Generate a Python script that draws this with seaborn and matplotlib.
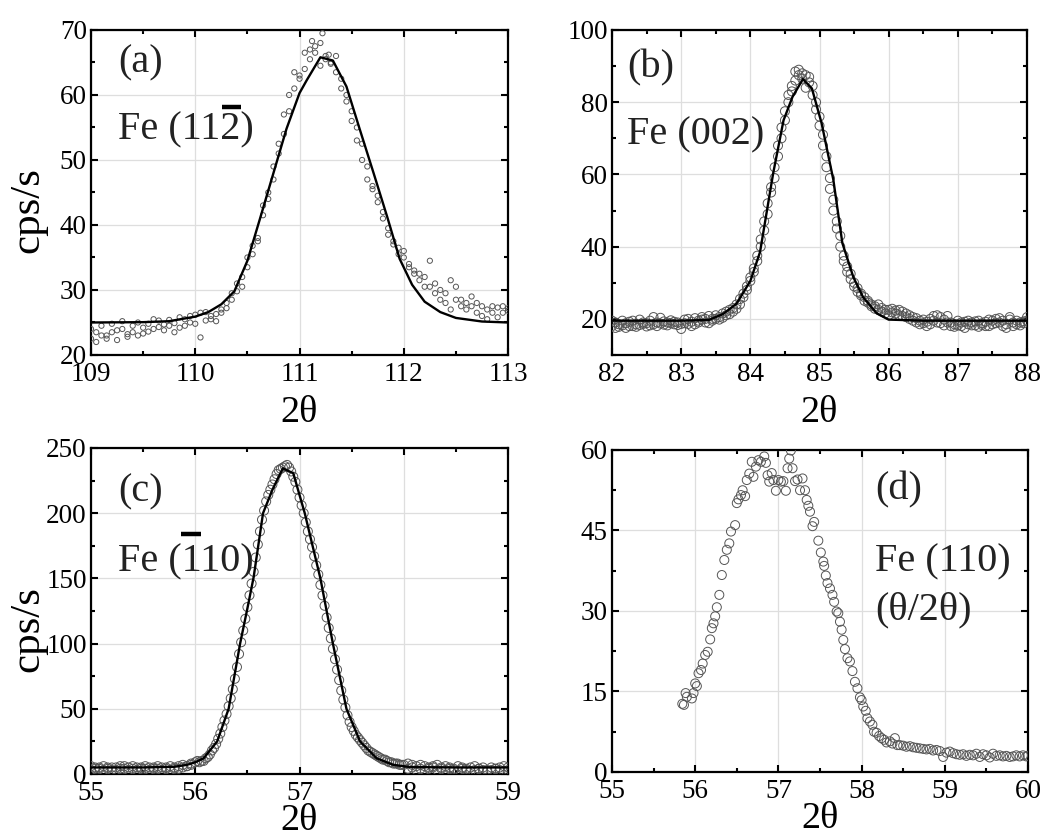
import numpy as np
import pandas as pd
import matplotlib
matplotlib.use("Agg")
import matplotlib.pyplot as plt
import seaborn as sns
from matplotlib.ticker import MultipleLocator

# ---------------- data: panel (a) Fe (11-2) ----------------
a_x = [109.00, 109.05, 109.10, 109.15, 109.20, 109.25, 109.30, 109.35, 109.40, 109.45,
       109.50, 109.55, 109.60, 109.65, 109.70, 109.75, 109.80, 109.85, 109.90, 109.95,
       110.00, 110.05, 110.10, 110.15, 110.20, 110.25, 110.30, 110.35, 110.40, 110.45,
       110.50, 110.55, 110.60, 110.65, 110.70, 110.75, 110.80, 110.85, 110.90, 110.95,
       111.00, 111.05, 111.10, 111.15, 111.20, 111.25, 111.30, 111.35, 111.40, 111.45,
       111.50, 111.55, 111.60, 111.65, 111.70, 111.75, 111.80, 111.85, 111.90, 111.95,
       112.00, 112.05, 112.10, 112.15, 112.20, 112.25, 112.30, 112.35, 112.40, 112.45,
       112.50, 112.55, 112.60, 112.65, 112.70, 112.75, 112.80, 112.85, 112.90, 112.95,
       113.00]
a_y1 = [22.5, 23.5, 24.5, 23.0, 23.5, 22.3, 24.0, 23.2, 24.5, 23.0,
        24.2, 24.8, 25.5, 24.3, 23.8, 24.5, 23.5, 25.8, 24.5, 25.0,
        26.2, 22.7, 25.3, 25.5, 26.3, 27.0, 28.0, 28.5, 29.8, 32.0,
        33.5, 35.5, 38.0, 41.5, 44.0, 47.0, 51.0, 54.0, 57.5, 61.0,
        63.0, 64.0, 67.0, 66.5, 68.0, 66.0, 65.0, 66.0, 62.5, 60.0,
        57.5, 55.0, 52.5, 49.0, 46.0, 44.5, 42.0, 39.5, 37.5, 36.5,
        35.0, 34.0, 33.0, 32.5, 32.0, 34.5, 31.0, 30.0, 29.5, 31.5,
        30.5, 28.5, 28.0, 27.5, 28.0, 27.5, 27.0, 27.5, 27.3, 26.5,
        26.8]
a_y2 = [24.0, 22.0, 23.0, 22.5, 24.8, 23.8, 25.2, 22.8, 23.5, 25.0,
        23.3, 23.6, 24.0, 25.3, 24.7, 25.4, 24.9, 24.2, 25.5, 26.0,
        24.8, 26.5, 26.6, 26.0, 25.2, 26.5, 27.2, 29.5, 31.0, 30.5,
        35.0, 36.8, 37.5, 43.0, 45.0, 49.0, 52.5, 57.0, 60.0, 63.5,
        62.5, 66.5, 65.5, 67.5, 64.5, 65.5, 64.8, 63.5, 61.0, 59.0,
        56.0, 53.0, 50.0, 47.0, 45.5, 43.5, 41.0, 38.5, 37.0, 35.5,
        36.0, 33.5, 32.5, 31.5, 30.5, 30.5, 29.5, 28.5, 28.0, 27.0,
        28.5, 27.5, 27.0, 29.0, 26.5, 26.0, 25.5, 26.5, 25.8, 27.5,
        27.2]
a_extra_x = [111.22, 111.12, 111.28]
a_extra_y = [69.5, 68.3, 66.2]
a_fit_x = [109.0, 109.5, 109.75, 110.0, 110.125, 110.25, 110.375, 110.5, 110.625,
           110.75, 110.875, 111.0, 111.07, 111.2, 111.32, 111.45, 111.58, 111.71,
           111.84, 111.96, 112.08, 112.2, 112.35, 112.5, 112.75, 113.0]
a_fit_y = [25.0, 25.05, 25.2, 25.9, 26.6, 27.8, 29.8, 34.5, 41.2,
           48.0, 54.8, 60.3, 62.3, 65.8, 65.3, 61.3, 54.6, 48.0,
           41.3, 34.8, 30.8, 28.2, 26.6, 25.7, 25.15, 25.0]

# ---------------- data: panel (b) Fe (002) ----------------
b_x = [82.00, 82.05, 82.10, 82.15, 82.20, 82.25, 82.30, 82.35, 82.40, 82.45,
       82.50, 82.55, 82.60, 82.65, 82.70, 82.75, 82.80, 82.85, 82.90, 82.95,
       83.00, 83.05, 83.10, 83.15, 83.20, 83.25, 83.30, 83.35, 83.40, 83.45,
       83.50, 83.55, 83.60, 83.65, 83.70, 83.75, 83.80, 83.85, 83.90, 83.95,
       84.00, 84.05, 84.10, 84.15, 84.20, 84.25, 84.30, 84.35, 84.40, 84.45,
       84.50, 84.55, 84.60, 84.65, 84.70, 84.75, 84.80, 84.85, 84.90, 84.95,
       85.00, 85.05, 85.10, 85.15, 85.20, 85.25, 85.30, 85.35, 85.40, 85.45,
       85.50, 85.55, 85.60, 85.65, 85.70, 85.75, 85.80, 85.85, 85.90, 85.95,
       86.00, 86.05, 86.10, 86.15, 86.20, 86.25, 86.30, 86.35, 86.40, 86.45,
       86.50, 86.55, 86.60, 86.65, 86.70, 86.75, 86.80, 86.85, 86.90, 86.95,
       87.00, 87.05, 87.10, 87.15, 87.20, 87.25, 87.30, 87.35, 87.40, 87.45,
       87.50, 87.55, 87.60, 87.65, 87.70, 87.75, 87.80, 87.85, 87.90, 87.95,
       88.00]
b_y1 = [18.0, 17.5, 18.5, 19.5, 18.8, 19.2, 18.0, 18.5, 19.8, 18.6,
        17.9, 19.5, 20.5, 19.0, 20.3, 18.4, 19.0, 18.8, 18.5, 19.0,
        18.6, 19.8, 20.0, 19.2, 20.2, 19.5, 20.5, 20.0, 20.8, 20.0,
        21.0, 20.5, 21.5, 21.0, 22.5, 23.0, 22.8, 24.0, 26.0, 28.0,
        30.5, 33.0, 36.0, 40.0, 44.5, 49.0, 55.0, 59.0, 65.0, 70.0,
        75.0, 80.0, 83.0, 86.0, 87.5, 88.0, 84.0, 87.0, 84.5, 80.0,
        76.0, 71.0, 65.0, 59.0, 53.0, 47.0, 43.0, 37.5, 34.5, 32.5,
        30.0, 28.5, 27.0, 26.0, 25.0, 24.0, 23.5, 24.0, 23.0, 22.5,
        22.5, 21.8, 22.3, 21.0, 22.0, 21.5, 21.0, 20.5, 20.2, 19.5,
        19.8, 19.2, 20.0, 19.5, 21.0, 20.5, 19.8, 20.8, 19.0, 18.5,
        19.5, 18.0, 19.2, 18.5, 19.0, 18.2, 19.5, 18.8, 19.2, 18.0,
        19.5, 18.8, 20.2, 19.5, 18.5, 19.8, 18.0, 18.5, 19.0, 18.8,
        20.5]
b_y2 = [19.5, 19.0, 17.8, 18.2, 17.5, 18.0, 19.5, 17.8, 18.3, 19.0,
        18.8, 18.2, 18.5, 18.0, 18.7, 19.3, 18.2, 19.6, 19.2, 18.3,
        17.2, 18.8, 18.6, 18.0, 18.5, 19.0, 19.8, 19.0, 18.8, 19.5,
        20.0, 19.8, 20.3, 22.0, 21.3, 22.0, 24.0, 25.5, 27.0, 29.0,
        31.5, 34.0, 37.5, 42.0, 47.0, 52.0, 56.5, 62.0, 68.0, 73.0,
        77.5, 82.0, 84.5, 88.5, 89.0, 86.5, 87.5, 85.5, 82.0, 78.0,
        73.5, 68.0, 62.0, 56.0, 50.0, 45.0, 40.0, 36.0, 33.0, 31.0,
        29.0, 27.5, 26.5, 25.0, 24.5, 23.5, 22.8, 22.5, 22.0, 21.5,
        21.0, 22.8, 21.5, 22.5, 20.8, 20.5, 20.0, 19.5, 19.0, 18.5,
        18.8, 18.0, 18.5, 20.8, 19.0, 18.8, 18.2, 19.0, 18.0, 17.8,
        18.2, 19.0, 17.5, 19.5, 18.2, 19.3, 17.8, 18.3, 18.0, 19.8,
        18.5, 20.0, 19.0, 18.0, 17.5, 20.5, 19.0, 19.5, 18.2, 19.3,
        19.5]
b_fit_x = [82.0, 83.0, 83.4, 83.6, 83.8, 84.0, 84.14, 84.33, 84.48, 84.61, 84.76,
           84.89, 85.03, 85.2, 85.33, 85.49, 85.63, 85.83, 86.0, 86.5, 88.0]
b_fit_y = [19.5, 19.5, 19.7, 21.3, 24.2, 30.5, 38.5, 60.3, 75.0, 81.5, 86.4,
           83.8, 74.2, 58.5, 41.0, 31.5, 26.0, 21.5, 19.8, 19.5, 19.5]

# ---------------- data: panel (c) Fe (-110) ----------------
c_base_left_x = [55.00, 55.04, 55.08, 55.12, 55.16, 55.20, 55.24, 55.28, 55.32, 55.36,
                 55.40, 55.44, 55.48, 55.52, 55.56, 55.60, 55.64, 55.68, 55.72, 55.76,
                 55.80, 55.84, 55.88, 55.92, 55.96]
c_base_left_y1 = [6, 5, 4, 6, 5, 3, 5, 6, 4, 5, 6, 5, 4, 6, 5, 4, 6, 5, 5, 6, 4, 6, 7, 6, 8]
c_base_left_y2 = [3, 4, 5, 3, 4, 5, 3, 4, 6, 3, 4, 3, 5, 4, 3, 5, 4, 3, 4, 3, 5, 4, 5, 6, 7]
c_peak_x = [56.00, 56.02, 56.04, 56.06, 56.08, 56.10, 56.12, 56.14, 56.16, 56.18,
            56.20, 56.22, 56.24, 56.26, 56.28, 56.30, 56.32, 56.34, 56.36, 56.38,
            56.40, 56.42, 56.44, 56.46, 56.48, 56.50, 56.52, 56.54, 56.56, 56.58,
            56.60, 56.62, 56.64, 56.66, 56.68, 56.70, 56.72, 56.74, 56.76, 56.78,
            56.80, 56.82, 56.84, 56.86, 56.88, 56.90, 56.92, 56.94, 56.96, 56.98,
            57.00, 57.02, 57.04, 57.06, 57.08, 57.10, 57.12, 57.14, 57.16, 57.18,
            57.20, 57.22, 57.24, 57.26, 57.28, 57.30, 57.32, 57.34, 57.36, 57.38,
            57.40, 57.42, 57.44, 57.46, 57.48, 57.50, 57.52, 57.54, 57.56, 57.58,
            57.60, 57.62, 57.64, 57.66, 57.68, 57.70, 57.72, 57.74, 57.76, 57.78,
            57.80, 57.82, 57.84, 57.86, 57.88, 57.90, 57.92, 57.94, 57.96, 57.98,
            58.00]
c_peak_y = [9, 10, 9, 10, 10, 12, 13, 15, 18, 20,
            23, 27, 31, 36, 41, 46, 52, 58, 65, 73,
            82, 92, 101, 110, 119, 128, 137, 146, 155, 166,
            176, 186, 195, 202, 209, 214, 218, 222, 226, 230,
            233, 234, 235, 236, 237, 235, 232, 228, 224, 218,
            212, 206, 200, 193, 186, 180, 174, 167, 160, 153,
            145, 137, 129, 120, 112, 104, 96, 88, 80, 72,
            64, 57, 51, 45, 40, 36, 33, 30, 28, 26,
            24, 22, 20, 18, 17, 16, 15, 14, 13, 12,
            11, 11, 10, 9, 9, 8, 8, 8, 7, 7,
            7]
c_base_right_x = [58.04, 58.08, 58.12, 58.16, 58.20, 58.24, 58.28, 58.32, 58.36, 58.40,
                  58.44, 58.48, 58.52, 58.56, 58.60, 58.64, 58.68, 58.72, 58.76, 58.80,
                  58.84, 58.88, 58.92, 58.96, 59.00]
c_base_right_y1 = [8, 7, 6, 7, 6, 5, 6, 7, 5, 6, 5, 4, 6, 5, 4, 5, 6, 4, 5, 3, 5, 4, 5, 6, 5]
c_base_right_y2 = [4, 5, 3, 4, 3, 4, 5, 3, 4, 3, 4, 3, 2, 4, 3, 2, 3, 4, 3, 2, 3, 4, 3, 2, 3]
c_fit_x = [55.0, 55.5, 55.8, 55.92, 56.0, 56.08, 56.21, 56.32, 56.43, 56.5, 56.56,
           56.65, 56.74, 56.84, 56.94, 57.05, 57.2, 57.32, 57.45, 57.58, 57.74,
           57.9, 58.06, 58.5, 59.0]
c_fit_y = [5.0, 5.0, 5.5, 7.0, 9.0, 12.0, 25.0, 50.0, 100.0, 127.0, 151.0,
           200.0, 218.0, 234.4, 230.6, 200.0, 150.0, 100.0, 50.0, 25.0, 12.0,
           7.0, 5.3, 5.0, 5.0]

# ---------------- data: panel (d) Fe (110) theta/2theta ----------------
d_x = [55.845, 55.865, 55.885, 55.90, 55.96, 55.98, 56.00, 56.02, 56.04, 56.07,
       56.09, 56.12, 56.15, 56.18, 56.20, 56.22, 56.24, 56.26, 56.29, 56.32,
       56.35, 56.38, 56.41, 56.43, 56.48, 56.50, 56.52, 56.55, 56.57, 56.60,
       56.62, 56.65, 56.68, 56.70, 56.73, 56.76, 56.79, 56.83, 56.85, 56.87,
       56.89, 56.92, 56.94, 56.97, 57.00, 57.03, 57.06, 57.09, 57.11, 57.13,
       57.15, 57.17, 57.20, 57.23, 57.26, 57.29, 57.32, 57.34, 57.36, 57.38,
       57.41, 57.43, 57.48, 57.51, 57.54, 57.55, 57.57, 57.59, 57.62, 57.65,
       57.67, 57.70, 57.72, 57.74, 57.76, 57.78, 57.80, 57.83, 57.86, 57.89,
       57.92, 57.95, 57.98, 58.00, 58.02, 58.05, 58.07, 58.10, 58.13, 58.15,
       58.18, 58.21, 58.24, 58.27, 58.30, 58.34, 58.37, 58.40, 58.43, 58.46,
       58.50, 58.54, 58.58, 58.62, 58.66, 58.70, 58.74, 58.78, 58.82, 58.86,
       58.90, 58.94, 58.98, 59.02, 59.06, 59.10, 59.14, 59.18, 59.22, 59.26,
       59.30, 59.34, 59.38, 59.42, 59.46, 59.50, 59.54, 59.58, 59.62, 59.66,
       59.70, 59.74, 59.78, 59.82, 59.86, 59.90, 59.94, 59.98, 60.00]
d_y = [12.7, 12.5, 14.7, 14.0, 13.7, 14.7, 16.5, 16.0, 18.4, 19.0,
       20.2, 21.8, 22.4, 24.7, 26.8, 27.7, 29.0, 30.7, 33.0, 36.7,
       39.5, 41.4, 42.6, 44.8, 46.0, 50.1, 50.8, 51.6, 52.5, 51.4,
       54.4, 55.6, 57.8, 55.0, 56.9, 58.1, 57.8, 58.8, 57.6, 55.3,
       54.1, 55.7, 54.4, 52.4, 54.4, 54.1, 54.2, 52.4, 56.6, 58.4,
       59.9, 56.6, 54.2, 54.5, 52.5, 54.7, 52.5, 50.7, 49.6, 48.5,
       45.8, 46.6, 43.1, 40.9, 39.2, 38.4, 36.6, 35.2, 34.2, 33.0,
       31.7, 29.9, 29.6, 28.0, 26.5, 24.6, 22.9, 21.2, 20.6, 18.8,
       16.8, 15.6, 13.9, 13.4, 12.2, 11.4, 10.0, 9.4, 8.8, 7.5,
       7.3, 6.7, 6.3, 6.0, 5.5, 5.7, 5.3, 6.3, 5.0, 5.0,
       4.9, 4.7, 4.8, 4.6, 4.5, 4.4, 4.3, 4.2, 4.3, 4.0,
       4.1, 3.9, 2.8, 3.6, 3.8, 3.5, 3.3, 3.2, 3.3, 3.0,
       3.2, 3.1, 3.4, 2.8, 3.3, 3.1, 2.7, 3.4, 3.0, 3.1,
       2.9, 3.0, 2.8, 2.9, 3.1, 2.9, 3.1, 2.9, 3.0]

# ---------------- labels ----------------
panel_labels = ["(a)", "(b)", "(c)", "(d)"]
peak_labels = ["Fe (112)", "Fe (002)", "Fe (110)", "Fe (110)"]
xlabel_text = "2\u03b8"
ylabel_text = "cps/s"

# ---------------- style ----------------
sns.set_theme(style="ticks")
plt.rcParams['font.family'] = ['Liberation Serif', 'DejaVu Serif']
plt.rcParams['axes.linewidth'] = 1.6

fig = plt.figure(figsize=(10.51, 8.4), dpi=100)
fig.patch.set_facecolor("white")

ax_a = fig.add_axes([0.0866, 0.5774, 0.3968, 0.3869])
ax_b = fig.add_axes([0.5823, 0.5774, 0.3949, 0.3869])
ax_c = fig.add_axes([0.0866, 0.0786, 0.3968, 0.3881])
ax_d = fig.add_axes([0.5823, 0.0810, 0.3958, 0.3833])

TICK_FS = 19.5
XLABEL_FS = 27.5
YLABEL_FS = 31
ANN_FS = 29


def style_axes(ax, xlim, ylim, xmaj, xmin, ymaj, ymin):
    ax.set_xlim(*xlim)
    ax.set_ylim(*ylim)
    ax.xaxis.set_major_locator(MultipleLocator(xmaj))
    ax.xaxis.set_minor_locator(MultipleLocator(xmin))
    ax.yaxis.set_major_locator(MultipleLocator(ymaj))
    ax.yaxis.set_minor_locator(MultipleLocator(ymin))
    ax.grid(True, which="major", color="#dedede", lw=0.9)
    ax.set_axisbelow(True)
    ax.tick_params(which="both", direction="in", top=True, right=True,
                   color="black", width=1.5, labelsize=TICK_FS, labelcolor="black")
    ax.tick_params(which="major", length=5)
    ax.tick_params(which="minor", length=3)
    ax.tick_params(axis="x", pad=5)
    ax.tick_params(axis="y", pad=3)
    for s in ax.spines.values():
        s.set_visible(True)
        s.set_color("black")
        s.set_linewidth(1.6)
    ax.set_xlabel(xlabel_text, fontsize=XLABEL_FS, color="black")
    ax.set_ylabel("")


def scatter(ax, x, y, size):
    sns.scatterplot(x=x, y=y, ax=ax, marker="o", s=size, facecolor="none",
                    edgecolor="#555555", linewidth=0.7, zorder=3, legend=False)


def fit(ax, x, y):
    sns.lineplot(x=x, y=y, ax=ax, color="black", lw=1.7, sort=False,
                 estimator=None, zorder=4, legend=False)


# panel (a)
da = pd.DataFrame({"x": a_x + a_x + a_extra_x, "y": a_y1 + a_y2 + a_extra_y})
scatter(ax_a, da["x"], da["y"], 14)
fit(ax_a, a_fit_x, a_fit_y)
style_axes(ax_a, (109, 113), (20, 70), 1, 0.5, 10, 5)

# panel (b)
db = pd.DataFrame({"x": b_x + b_x, "y": b_y1 + b_y2})
scatter(ax_b, db["x"], db["y"], 42)
fit(ax_b, b_fit_x, b_fit_y)
style_axes(ax_b, (82, 88), (10, 100), 1, 0.5, 20, 10)

# panel (c)
dc = pd.DataFrame({"x": c_base_left_x + c_base_left_x + c_peak_x + c_base_right_x + c_base_right_x,
                   "y": c_base_left_y1 + c_base_left_y2 + c_peak_y + c_base_right_y1 + c_base_right_y2})
scatter(ax_c, dc["x"], dc["y"], 42)
fit(ax_c, c_fit_x, c_fit_y)
style_axes(ax_c, (55, 59), (0, 250), 1, 0.5, 50, 25)

# panel (d)
dd = pd.DataFrame({"x": d_x, "y": d_y})
scatter(ax_d, dd["x"], dd["y"], 42)
style_axes(ax_d, (55, 60), (0, 60), 1, 0.5, 15, 7.5)

for ax in (ax_a, ax_c):
    ax.set_ylabel(ylabel_text, fontsize=YLABEL_FS, color="black")
    ax.yaxis.set_label_coords(-0.105, 0.445)
for ax in (ax_a, ax_b):
    ax.xaxis.set_label_coords(0.5, -0.126)
ax_c.xaxis.set_label_coords(0.5, -0.092)
ax_d.xaxis.set_label_coords(0.5, -0.091)

# annotations
txt = dict(fontsize=ANN_FS, color="#222222", va="center", ha="left")
ax_a.text(0.065, 0.898, panel_labels[0], transform=ax_a.transAxes, **txt)
ax_a.text(0.065, 0.692, peak_labels[0], transform=ax_a.transAxes, **txt)
ax_a.plot([0.314, 0.360], [0.762, 0.762], transform=ax_a.transAxes, color="black",
          lw=3.2, solid_capstyle="butt", clip_on=False)

ax_b.text(0.036, 0.883, panel_labels[1], transform=ax_b.transAxes, **txt)
ax_b.text(0.036, 0.677, peak_labels[1], transform=ax_b.transAxes, **txt)

ax_c.text(0.065, 0.866, panel_labels[2], transform=ax_c.transAxes, **txt)
ax_c.text(0.065, 0.651, peak_labels[2], transform=ax_c.transAxes, **txt)
ax_c.plot([0.216, 0.264], [0.737, 0.737], transform=ax_c.transAxes, color="black",
          lw=3.2, solid_capstyle="butt", clip_on=False)

ax_d.text(0.632, 0.876, panel_labels[3], transform=ax_d.transAxes, **txt)
ax_d.text(0.632, 0.653, peak_labels[3], transform=ax_d.transAxes, **txt)
ax_d.text(0.632, 0.503, "(\u03b8/2\u03b8)", transform=ax_d.transAxes, **txt)

fig.savefig("out.png", dpi=100, facecolor="white")
